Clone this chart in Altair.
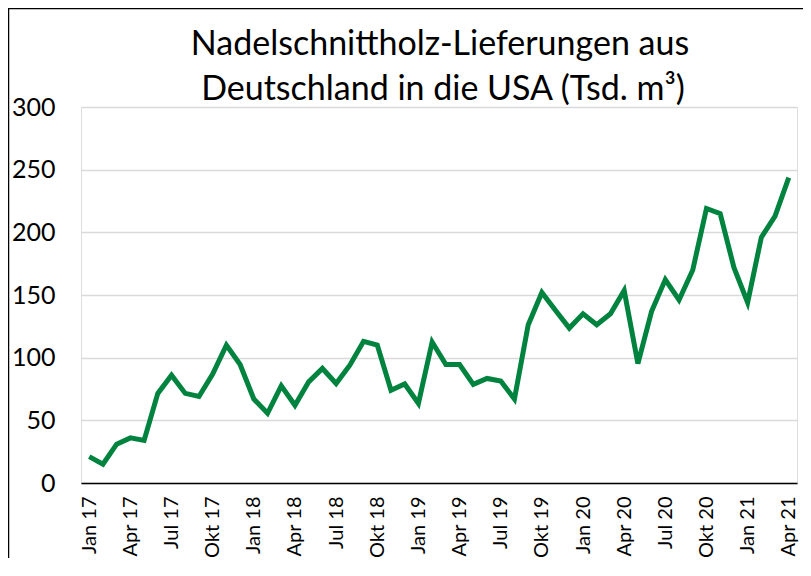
import altair as alt
import pandas as pd

months = ["Jan", "Feb", "Mrz", "Apr", "Mai", "Jun", "Jul", "Aug", "Sep", "Okt", "Nov", "Dez"]
years = ["17", "18", "19", "20", "21"]
labels = [f"{m} {y}" for y in years for m in months][:52]

values = [21, 15, 31, 36, 34, 71.5, 86, 71.5, 69, 87, 110, 94.5,
          67, 55.6, 77.5, 62, 80.7, 91.4, 79.4, 94, 113, 110, 74, 79,
          63.5, 112.5, 94.5, 94.5, 78.7, 83.4, 81.3, 67, 126, 152, 137.7, 123.6,
          135, 126.3, 135, 153.6, 95.3, 137, 162.3, 146, 170, 219, 215, 172,
          144, 196, 213, 243.6]

shown = [l for i, l in enumerate(labels) if i % 3 == 0]

title_lines = ["Nadelschnittholz-Lieferungen aus", "Deutschland in die USA (Tsd. m³)"]

df = pd.DataFrame({"Monat": labels, "Wert": values})
t1 = pd.DataFrame({"t": [title_lines[0]]})
t2 = pd.DataFrame({"t": [title_lines[1]]})
one = pd.DataFrame({"k": [0]})

FONT = "Lato"

line = alt.Chart(df).mark_line(color="#00833e", strokeWidth=5, strokeJoin="miter").encode(
    x=alt.X("Monat:O", sort=labels, title=None,
            scale=alt.Scale(type="point", padding=0.6),
            axis=alt.Axis(values=shown, labelAngle=-90, labelFontSize=20, labelFont=FONT,
                          labelColor="black", ticks=False, domainColor="black",
                          domainWidth=1.5, labelPadding=13, grid=False)),
    y=alt.Y("Wert:Q", title=None,
            scale=alt.Scale(domain=[0, 300], nice=False),
            axis=alt.Axis(values=[0, 50, 100, 150, 200, 250, 300], labelFontSize=25,
                          labelFont=FONT, labelColor="black", ticks=False, domain=False,
                          gridColor="#d9d9d9", gridWidth=1.5, labelPadding=26)),
)

title1 = alt.Chart(t1).mark_text(font=FONT, fontSize=34, color="black", baseline="alphabetic",
                                 align="center").encode(
    text="t:N", x=alt.value(359), y=alt.value(-52))
title2 = alt.Chart(t2).mark_text(font=FONT, fontSize=34, color="black", baseline="alphabetic",
                                 align="center").encode(
    text="t:N", x=alt.value(362), y=alt.value(-7))

border_left = alt.Chart(one).mark_rule(color="black", strokeWidth=1.5).encode(
    x=alt.value(-72.5), y=alt.value(-99), y2=alt.value(460))
border_top = alt.Chart(one).mark_rule(color="black", strokeWidth=1.5).encode(
    x=alt.value(-73), x2=alt.value(730), y=alt.value(-98.5))

chart = alt.layer(line, title1, title2, border_left, border_top).properties(
    width=716, height=376,
    autosize=alt.AutoSizeParams(type="none"),
    padding={"left": 73, "top": 99, "right": 6, "bottom": 75},
).configure_view(stroke=None).configure(background="white")

chart.save("out.html", embed_options={"renderer": "svg", "actions": False})
